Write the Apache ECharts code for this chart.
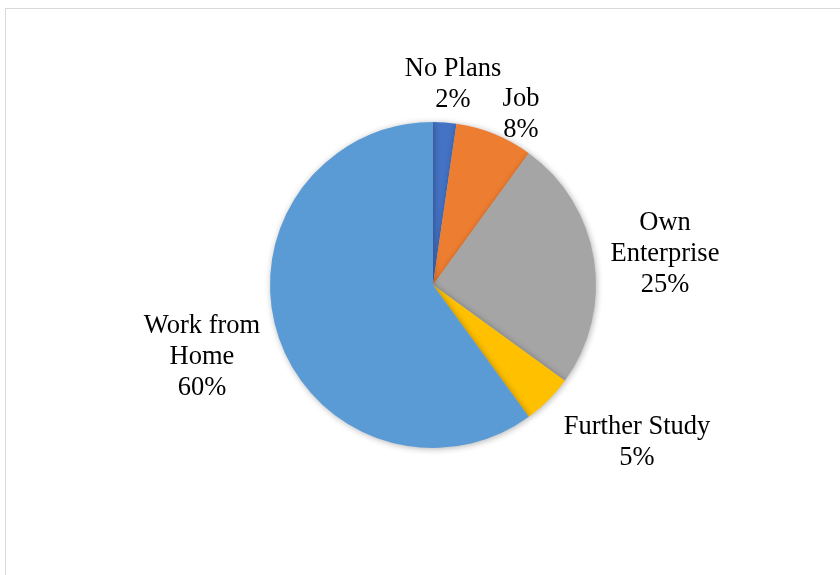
<!DOCTYPE html>
<html><head><meta charset="utf-8">
<script src="https://cdn.jsdelivr.net/npm/echarts@6/dist/echarts.min.js"></script>
<style>html,body{margin:0;padding:0;background:#fff}#c{width:840px;height:575px;position:relative}
#frame{position:absolute;left:5px;top:8px;width:860px;height:600px;border:1px solid #d9d9d9;box-sizing:border-box;pointer-events:none}</style>
</head><body><div id="c"></div><div id="frame"></div>
<script>
const categories = ['No Plans', 'Job', 'Own Enterprise', 'Further Study', 'Work from Home'];
const values = [2.3, 7.7, 25, 5, 60];
const percentLabels = ['2%', '8%', '25%', '5%', '60%'];
const nameLines = ['No Plans', 'Job', 'Own\nEnterprise', 'Further Study', 'Work from\nHome'];
const colors = ['#4472C4', '#ED7D31', '#A5A5A5', '#FFC000', '#5B9BD5'];

const pieCenter = [433, 285];
// label block centre offsets from pie centre (layout styling)
const labelOffsets = [[20, -200], [88, -170], [232, -31], [204, 158], [-231, 72]];

const chart = echarts.init(document.getElementById('c'), null, {renderer: 'canvas'});
chart.setOption({
  animation: false,
  series: [{
    type: 'pie',
    center: pieCenter,
    radius: 163,
    startAngle: 90,
    clockwise: true,
    data: categories.map((c, i) => ({name: c, value: values[i], itemStyle: {color: colors[i]}})),
    itemStyle: {borderWidth: 0, shadowBlur: 6, shadowColor: 'rgba(0,0,0,0.3)', shadowOffsetX: 1, shadowOffsetY: 1},
    label: {
      show: true,
      position: 'outside',
      fontFamily: 'Liberation Serif',
      fontSize: 26.5,
      lineHeight: 31,
      color: '#000',
      align: 'center',
      formatter: p => nameLines[p.dataIndex] + '\n' + percentLabels[p.dataIndex]
    },
    labelLine: {show: false},
    labelLayout: p => ({
      x: pieCenter[0] + labelOffsets[p.dataIndex][0],
      y: pieCenter[1] + labelOffsets[p.dataIndex][1],
      align: 'center',
      verticalAlign: 'middle'
    }),
    emphasis: {disabled: true}
  }]
});
</script></body></html>
